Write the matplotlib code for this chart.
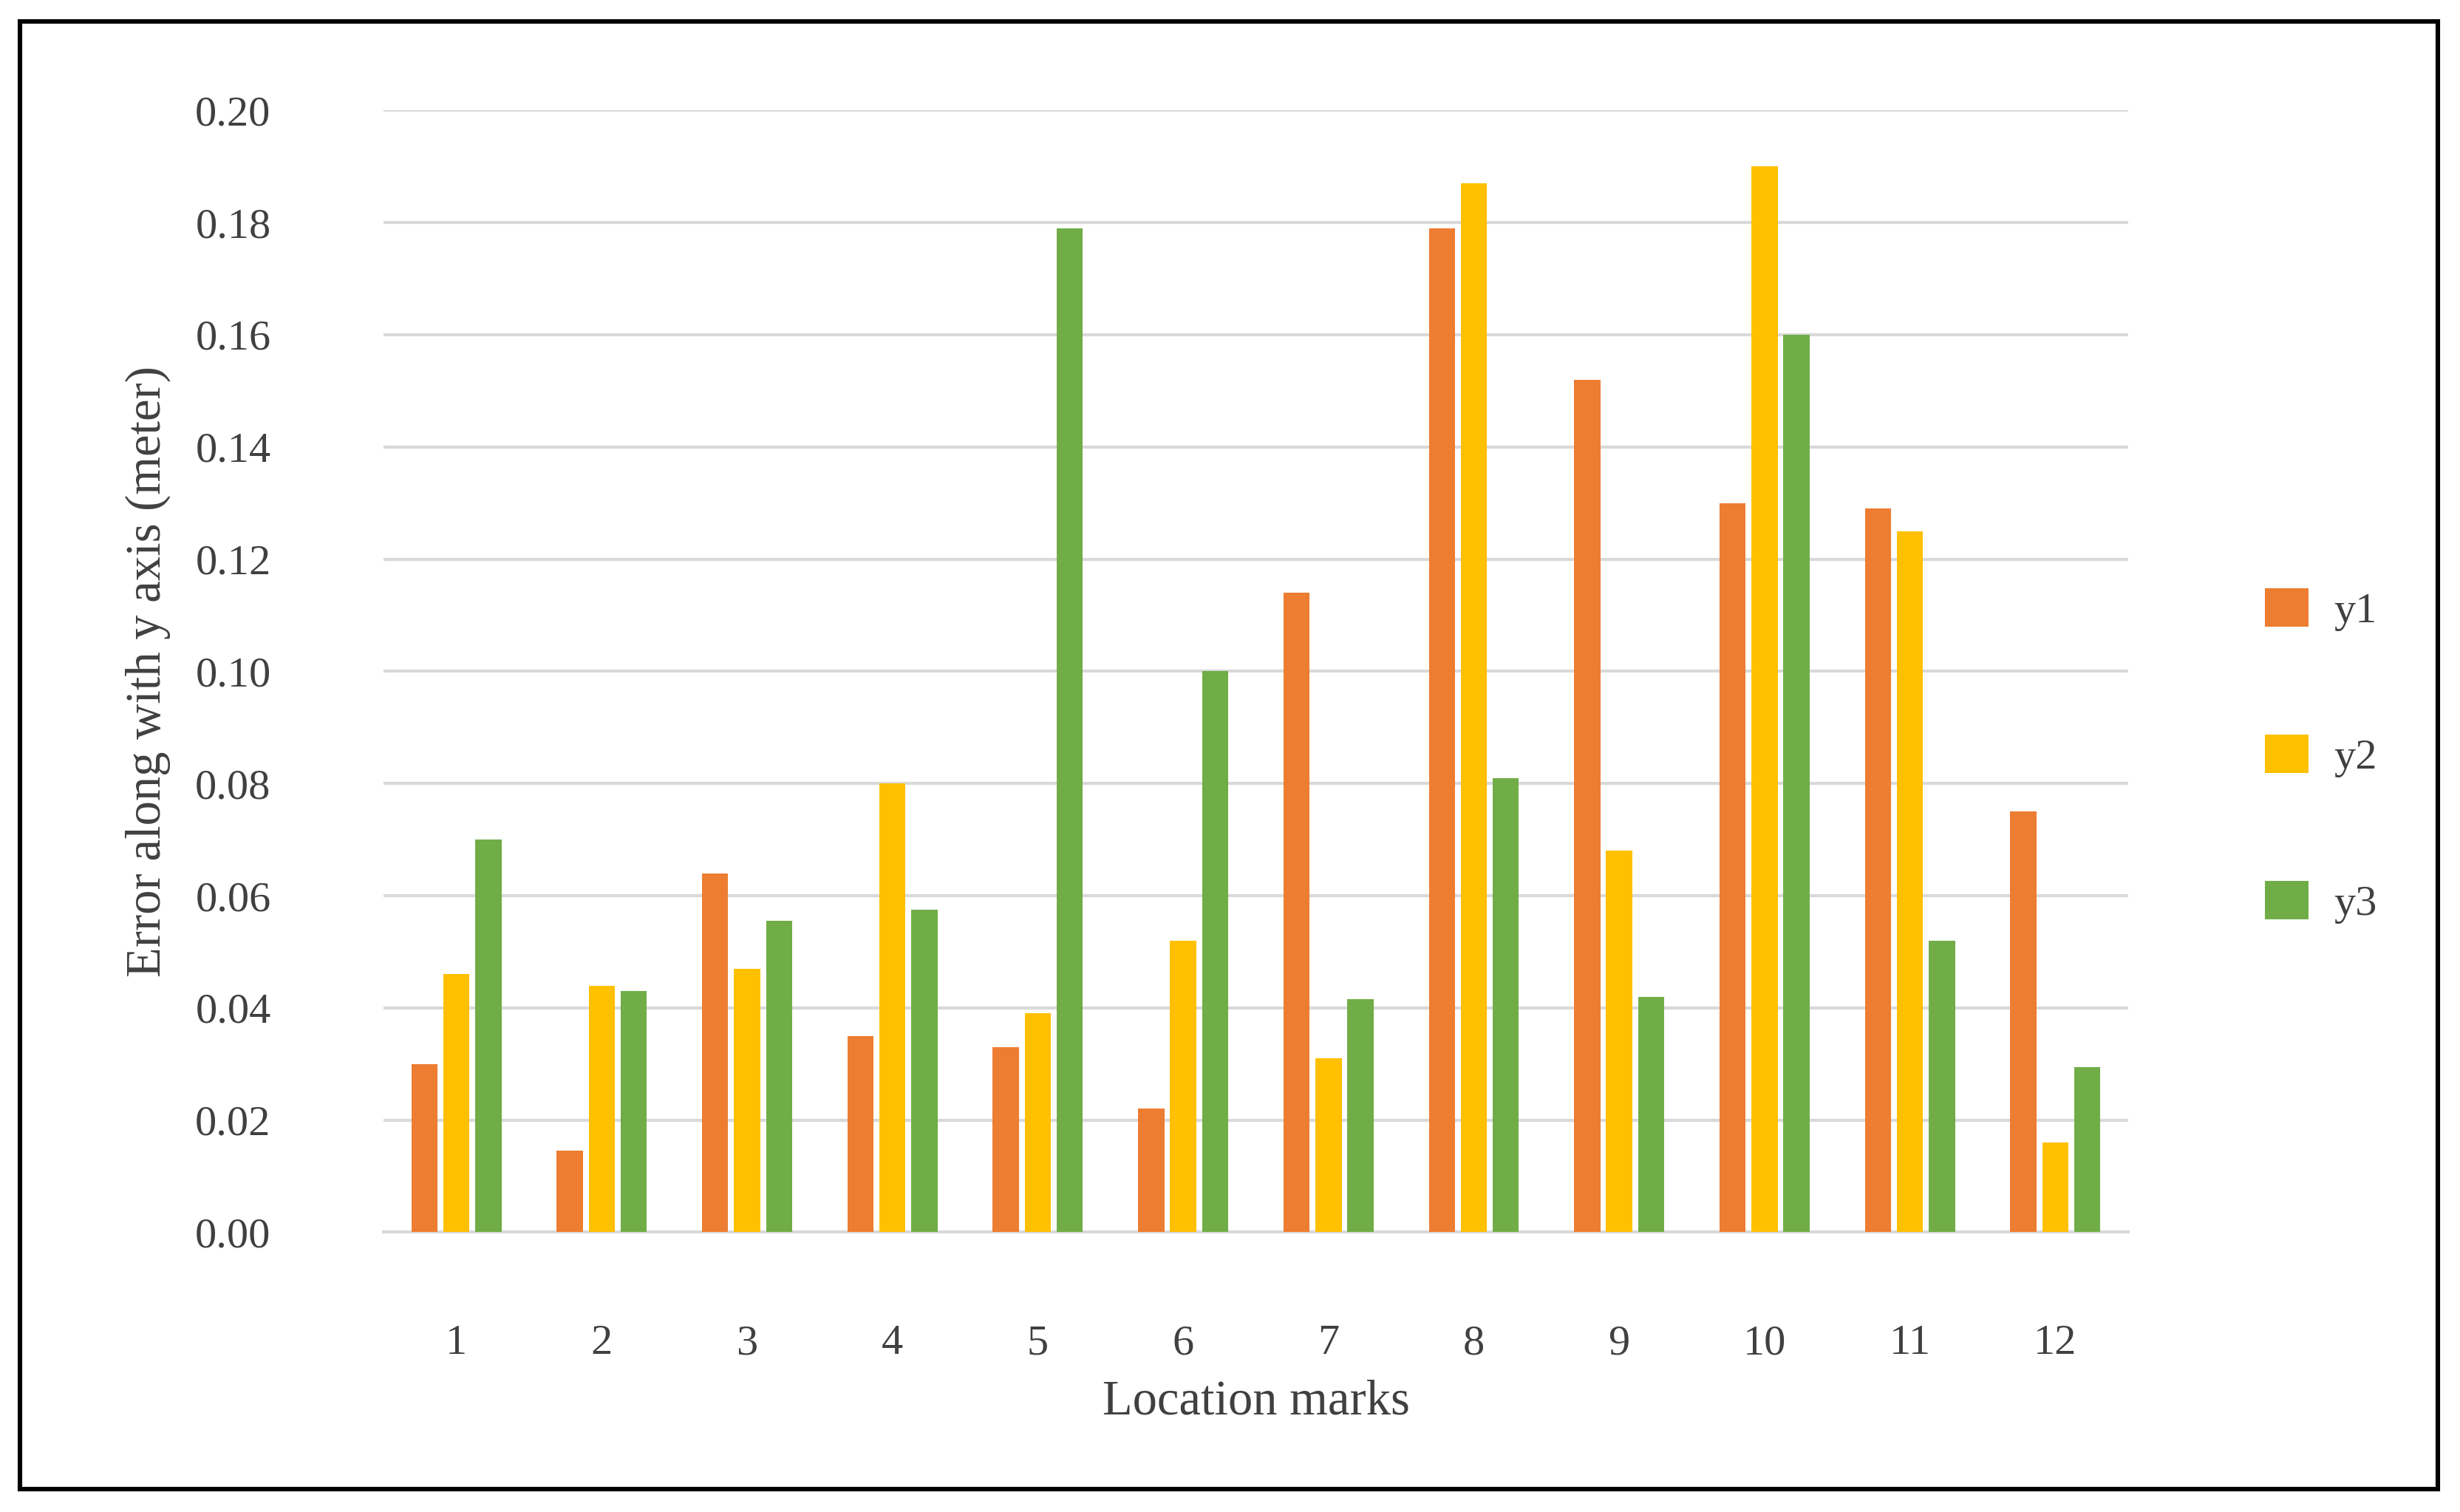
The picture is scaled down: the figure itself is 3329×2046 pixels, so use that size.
import matplotlib
matplotlib.use("Agg")
import matplotlib.pyplot as plt
import numpy as np
from matplotlib.patches import Rectangle

categories = [str(i) for i in range(1, 13)]
y1 = [0.030, 0.0145, 0.064, 0.035, 0.033, 0.022, 0.114, 0.179, 0.152, 0.130, 0.129, 0.075]
y2 = [0.046, 0.044, 0.047, 0.080, 0.039, 0.052, 0.031, 0.187, 0.068, 0.190, 0.125, 0.016]
y3 = [0.070, 0.043, 0.0555, 0.0575, 0.179, 0.100, 0.0415, 0.081, 0.042, 0.160, 0.052, 0.0295]
series = [("y1", y1, "#ED7D31"), ("y2", y2, "#FFC000"), ("y3", y3, "#70AD47")]

plt.rcParams['font.family'] = ['Liberation Serif', 'DejaVu Serif']
fig = plt.figure(figsize=(16.645, 10.23), dpi=200)
fig.patches.append(Rectangle((0.008, 0.015), 0.983, 0.971, transform=fig.transFigure,
                             fill=False, edgecolor='black', linewidth=2.2))
ax = fig.add_axes([0.156, 0.185, 0.709, 0.742])
x = np.arange(len(categories))
w = 0.18
off = 0.22
for i, (name, vals, c) in enumerate(series):
    ax.bar(x + (i - 1) * off, vals, w, color=c, label=name, zorder=3)
ax.set_xlim(-0.5, 11.5)
ax.set_ylim(0, 0.20)
ax.set_yticks(np.arange(0, 0.201, 0.02))
ax.set_yticklabels([f"{v:.2f}" for v in np.arange(0, 0.201, 0.02)], fontsize=21, color='#404040')
ax.set_xticks(x)
ax.set_xticklabels(categories, fontsize=21, color='#404040')
ax.tick_params(length=0, pad=22)
ax.tick_params(axis='x', pad=45)
ax.tick_params(axis='y', pad=55)
ax.grid(axis='y', color='#D9D9D9', linewidth=1.5, zorder=0)
for s in ['top', 'right', 'left']:
    ax.spines[s].set_visible(False)
ax.spines['bottom'].set_color('#D9D9D9')
ax.spines['bottom'].set_linewidth(1.5)
ax.set_xlabel("Location marks", fontsize=24, color='#404040', labelpad=8)
ax.set_ylabel("Error along with y axis (meter)", fontsize=24, color='#404040', labelpad=12)
fig.legend(loc='center left', bbox_to_anchor=(0.905, 0.50), frameon=False, fontsize=21,
           handlelength=1.0, handleheight=1.0, labelspacing=2.4, handletextpad=0.6,
           labelcolor='#404040')
fig.savefig("out.png", dpi=200)
